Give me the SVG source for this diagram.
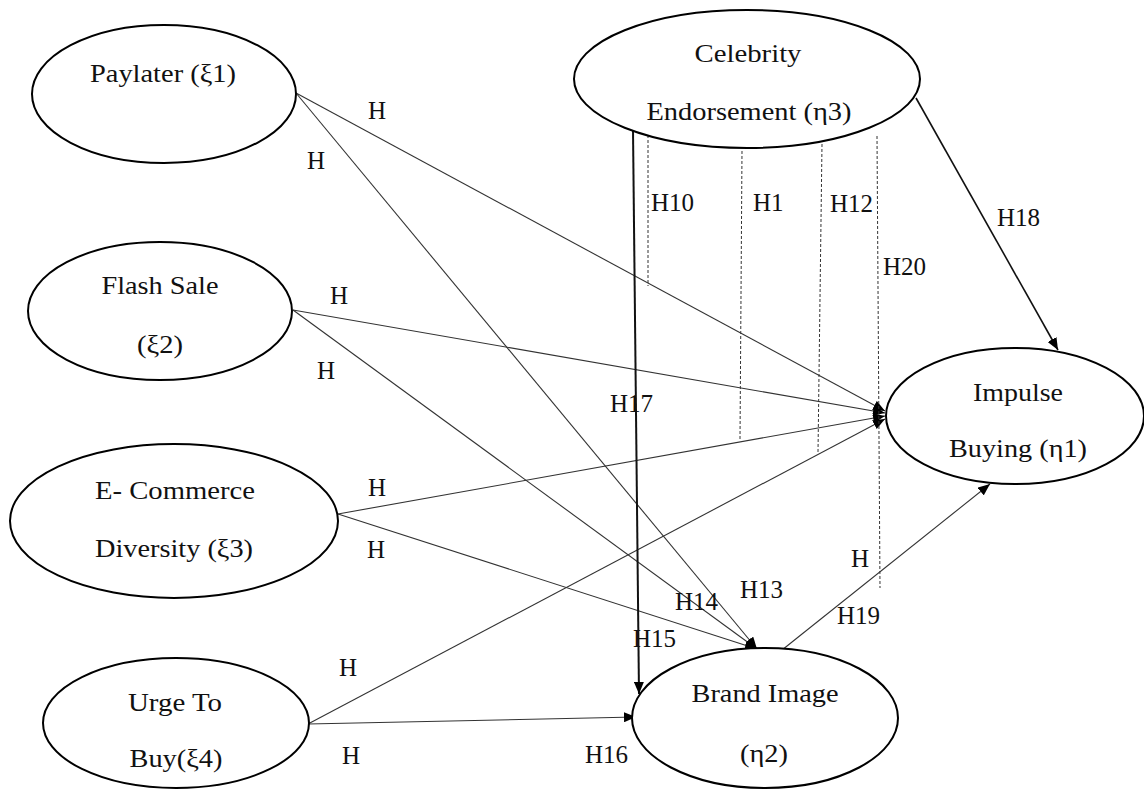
<svg xmlns="http://www.w3.org/2000/svg" width="1144" height="789" viewBox="0 0 1144 789">
<defs>
<marker id="arr" markerUnits="userSpaceOnUse" markerWidth="12" markerHeight="10" refX="12" refY="5" orient="auto">
<path d="M0,0 L12,5 L0,10 z" fill="#000"/>
</marker>
</defs>
<style>
.node ellipse{fill:#fff;stroke:#000;stroke-width:2}
text{font-family:"Liberation Serif","Times New Roman",serif;font-size:25px;fill:#111}
.node text{text-anchor:middle}
.c{stroke:#333;stroke-width:1.1;fill:none}
.ca{stroke:#333;stroke-width:1.1;fill:none;marker-end:url(#arr)}
.cs{stroke:#111;stroke-width:2;fill:none;marker-end:url(#arr)}
.d{stroke:#333;stroke-width:1;stroke-dasharray:3 2;fill:none}
</style>
<rect width="1144" height="789" fill="#fff"/>
<g id="connectors">
<line class="ca" x1="296" y1="93" x2="885" y2="411"/>
<line class="ca" x1="296" y1="93" x2="757" y2="649"/>
<line class="ca" x1="293" y1="310" x2="885" y2="413"/>
<line class="ca" x1="293" y1="310" x2="757" y2="649"/>
<line class="ca" x1="338" y1="514" x2="885" y2="416"/>
<line class="ca" x1="338" y1="514" x2="757" y2="649"/>
<line class="ca" x1="308" y1="724" x2="885" y2="419"/>
<line class="ca" x1="308" y1="724" x2="636" y2="717"/>
<line class="cs" x1="633" y1="130" x2="639" y2="694"/>
<line class="ca" style="stroke-width:1.6;stroke:#111" x1="916" y1="98" x2="1058" y2="350"/>
<line class="ca" x1="782" y1="650" x2="990" y2="484"/>
<line class="d" x1="648" y1="135" x2="648" y2="286"/>
<line class="d" x1="742" y1="151" x2="740" y2="440"/>
<line class="d" x1="822" y1="144" x2="818" y2="453"/>
<line class="d" x1="877" y1="136" x2="880" y2="588"/>
</g>
<g id="labels">
<text x="368" y="119">H</text>
<text x="307" y="169">H</text>
<text x="330" y="304">H</text>
<text x="317" y="379">H</text>
<text x="368" y="496">H</text>
<text x="367" y="558">H</text>
<text x="339" y="676">H</text>
<text x="342" y="764">H</text>
<text x="651" y="211">H10</text>
<text x="753" y="211">H1</text>
<text x="830" y="212">H12</text>
<text x="883" y="275">H20</text>
<text x="997" y="226">H18</text>
<text x="610" y="412">H17</text>
<text x="675" y="610">H14</text>
<text x="740" y="598">H13</text>
<text x="633" y="647">H15</text>
<text x="585" y="763">H16</text>
<text x="851" y="567">H</text>
<text x="837" y="624">H19</text>
</g>
<g id="paylater" class="node">
<ellipse cx="164" cy="94" rx="132" ry="69"/>
<text x="163" y="82" textLength="146" lengthAdjust="spacingAndGlyphs">Paylater (ξ1)</text>
</g>
<g id="flashsale" class="node">
<ellipse cx="160" cy="311" rx="132" ry="69"/>
<text x="160" y="294" textLength="117" lengthAdjust="spacingAndGlyphs">Flash Sale</text>
<text x="160" y="353" textLength="46" lengthAdjust="spacingAndGlyphs">(ξ2)</text>
</g>
<g id="ecommerce" class="node">
<ellipse cx="174" cy="521" rx="164" ry="77"/>
<text x="175" y="499" textLength="160" lengthAdjust="spacingAndGlyphs">E- Commerce</text>
<text x="174" y="557" textLength="158" lengthAdjust="spacingAndGlyphs">Diversity (ξ3)</text>
</g>
<g id="urge" class="node">
<ellipse cx="176" cy="723" rx="133" ry="65"/>
<text x="175" y="711" textLength="94" lengthAdjust="spacingAndGlyphs">Urge To</text>
<text x="176" y="767" textLength="93" lengthAdjust="spacingAndGlyphs">Buy(ξ4)</text>
</g>
<g id="celebrity" class="node">
<ellipse cx="747" cy="79" rx="173" ry="69"/>
<text x="748" y="62" textLength="107" lengthAdjust="spacingAndGlyphs">Celebrity</text>
<text x="749" y="120" textLength="205" lengthAdjust="spacingAndGlyphs">Endorsement (η3)</text>
</g>
<g id="impulse" class="node">
<ellipse cx="1015" cy="416" rx="129" ry="68"/>
<text x="1018" y="401" textLength="90" lengthAdjust="spacingAndGlyphs">Impulse</text>
<text x="1018" y="457" textLength="138" lengthAdjust="spacingAndGlyphs">Buying (η1)</text>
</g>
<g id="brandimage" class="node">
<ellipse cx="765" cy="718" rx="133" ry="70"/>
<text x="765" y="702" textLength="147" lengthAdjust="spacingAndGlyphs">Brand Image</text>
<text x="764" y="762" textLength="48" lengthAdjust="spacingAndGlyphs">(η2)</text>
</g>
</svg>
